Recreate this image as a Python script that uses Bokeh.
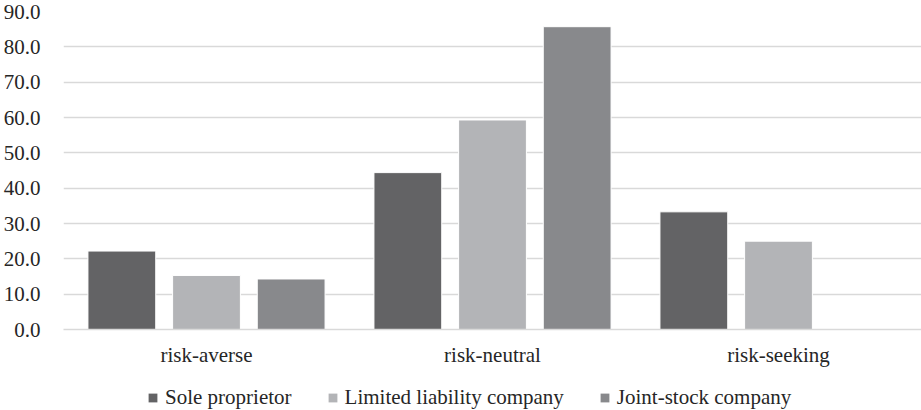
from bokeh.plotting import figure
from bokeh.layouts import column
from bokeh.models import ColumnDataSource, FactorRange, Range1d, Legend, LegendItem, NumeralTickFormatter, FixedTicker
from bokeh.transform import dodge
from bokeh.embed import file_html
from bokeh.resources import INLINE

categories = ["risk-averse", "risk-neutral", "risk-seeking"]
series = ["Sole proprietor", "Limited liability company", "Joint-stock company"]
sole = [22.2, 44.4, 33.3]
llc = [15.3, 59.3, 25.0]
jsc = [14.3, 85.7, 0.0]
colors = ["#636365", "#b3b4b7", "#88898c"]
y_ticks = [0, 10, 20, 30, 40, 50, 60, 70, 80, 90]

FONT = "Liberation Serif"
TXT = "#262626"

source = ColumnDataSource(data=dict(cat=categories, sole=sole, llc=llc, jsc=jsc))

p = figure(x_range=FactorRange(*categories, range_padding=0), y_range=Range1d(0, 90),
           width=921, height=384, output_backend="svg", toolbar_location=None,
           min_border_left=59, min_border_right=0, min_border_top=11, min_border_bottom=55)
p.outline_line_color = None

for key, off, col in zip(["sole", "llc", "jsc"], [-0.296, 0.0, 0.296], colors):
    p.vbar(x=dodge("cat", off, range=p.x_range), top=key, width=0.237, source=source,
           fill_color=col, line_color="white", line_width=1)

p.yaxis.ticker = FixedTicker(ticks=y_ticks)
p.yaxis.formatter = NumeralTickFormatter(format="0.0")
p.yaxis.axis_line_color = None
p.yaxis.major_tick_line_color = None
p.yaxis.minor_tick_line_color = None
p.yaxis.major_label_standoff = 17
p.yaxis.major_label_text_font = FONT
p.yaxis.major_label_text_font_size = "21px"
p.yaxis.major_label_text_color = TXT

p.xaxis.axis_line_color = "#d9d9d9"
p.xaxis.axis_line_width = 1.5
p.xaxis.major_tick_line_color = None
p.xaxis.minor_tick_line_color = None
p.xaxis.major_label_standoff = 7
p.xaxis.major_label_text_font = FONT
p.xaxis.major_label_text_font_size = "21px"
p.xaxis.major_label_text_color = TXT

p.xgrid.grid_line_color = None
p.ygrid.grid_line_color = "#d9d9d9"
p.ygrid.grid_line_width = 1.5
p.ygrid.ticker = FixedTicker(ticks=y_ticks)

# legend strip below the chart
lg = figure(width=921, height=26, output_backend="svg", toolbar_location=None,
            x_axis_type=None, y_axis_type=None, x_range=Range1d(0, 1), y_range=Range1d(0, 1),
            min_border_left=0, min_border_right=0, min_border_top=0, min_border_bottom=0)
lg.outline_line_color = None
lg.xgrid.visible = False
lg.ygrid.visible = False
offscreen = ColumnDataSource(data=dict(x=[-10], top=[-10]))
legend_renderers = [lg.vbar(x="x", top="top", width=0.1, source=offscreen, fill_color=c, line_color=None)
                    for c in colors]
legend = Legend(items=[LegendItem(label=s, renderers=[r]) for s, r in zip(series, legend_renderers)],
                orientation="horizontal", location=(84, 0),
                label_text_font=FONT, label_text_font_size="21px", label_text_color=TXT,
                glyph_width=11, glyph_height=11, spacing=35, label_standoff=7,
                border_line_color=None, background_fill_alpha=0, margin=0, padding=0)
lg.add_layout(legend, "center")

layout = column(p, lg, spacing=0)
open("out.html", "w").write(file_html(layout, INLINE))
